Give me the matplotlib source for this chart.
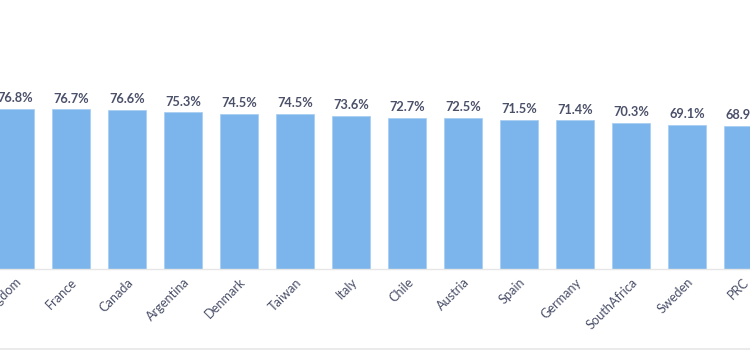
import matplotlib
matplotlib.use("Agg")
import matplotlib.pyplot as plt
from matplotlib.lines import Line2D

countries = ["United Kingdom", "France", "Canada", "Argentina", "Denmark", "Taiwan",
             "Italy", "Chile", "Austria", "Spain", "Germany", "SouthAfrica", "Sweden", "PRC"]
values = [76.8, 76.7, 76.6, 75.3, 74.5, 74.5, 73.6, 72.7, 72.5, 71.5, 71.4, 70.3, 69.1, 68.9]

plt.rcParams['font.family'] = ['Lato', 'DejaVu Sans']

W, H = 750, 350
fig = plt.figure(figsize=(W / 100, H / 100), dpi=100)
base_px = 269
ax = fig.add_axes([0, (H - base_px) / H, 1, base_px / H])

pitch = 56.0
first_center = 15.0
ax.set_xlim(-first_center / pitch, (W - first_center) / pitch)
px_per_unit = 2.08
ax.set_ylim(0, base_px / px_per_unit)

x = list(range(len(countries)))
bars = ax.bar(x, values, width=38 / pitch, color="#7cb5ec", edgecolor="#a9cff2", linewidth=0.6)

text_color = "#4b5069"
for xi, v in zip(x, values):
    ax.annotate(f"{v}%", (xi, v), xytext=(0, 3.5), textcoords="offset points",
                ha="center", va="bottom", fontsize=9.2, fontweight="bold", color=text_color)

ax.set_xticks(x)
ax.set_xticklabels(countries, rotation=45, ha="right", rotation_mode="anchor",
                   fontsize=9.2, color=text_color)
ax.tick_params(axis="x", length=0, pad=5)
ax.set_yticks([])
for s in ["top", "left", "right"]:
    ax.spines[s].set_visible(False)
ax.spines["bottom"].set_color("#e6e6e6")
ax.spines["bottom"].set_linewidth(1)

fig.add_artist(Line2D([0, 1], [1.5 / H, 1.5 / H], color="#e6e6e6", linewidth=1.2,
                      transform=fig.transFigure))

fig.savefig("out.png", dpi=100, facecolor="white")
